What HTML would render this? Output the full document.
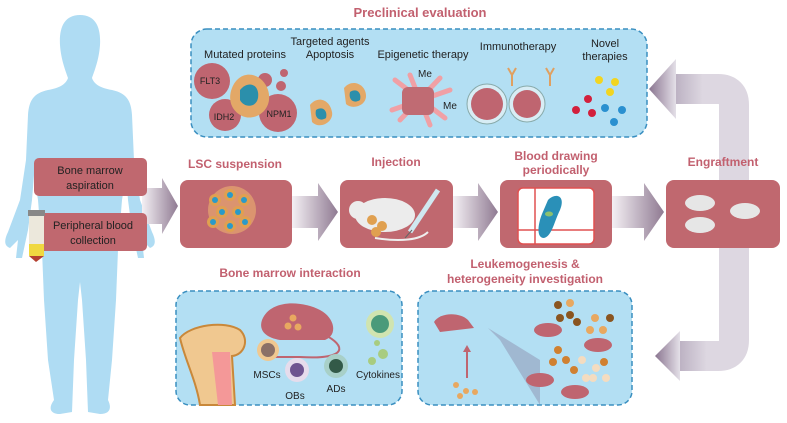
<!DOCTYPE html>
<html><head><meta charset="utf-8"><style>
body{margin:0;background:#fff}
svg{display:block}
text{font-family:"Liberation Sans",sans-serif}
</style></head><body>
<svg width="787" height="423" viewBox="0 0 787 423" xmlns="http://www.w3.org/2000/svg">
<defs>
<linearGradient id="ga" x1="0" x2="1"><stop offset="0" stop-color="#f4f0f4"/><stop offset="1" stop-color="#8f7a92"/></linearGradient>
<linearGradient id="gl" x1="1" x2="0"><stop offset="0" stop-color="#e4e0e8"/><stop offset="1" stop-color="#8a7590"/></linearGradient>
<linearGradient id="gh" x1="1" x2="0"><stop offset="0" stop-color="#dcd6e0"/><stop offset="1" stop-color="#b8adbf"/></linearGradient>
</defs>
<!-- human -->
<path fill="#afdcf3" d="M80 15 C96 15 101 28 100 45 C99 60 94 72 92 78 C94 84 100 88 112 90 C126 93 131 100 132 115 L134 160 L140 200 L152 232 C156 240 156 246 150 248 L142 240 L144 258 L138 258 L132 230 L128 200 L126 175 L122 200 L118 250 L116 300 L112 360 L108 400 C112 408 110 414 100 414 L88 412 L86 360 L82 300 L80 282 L78 300 L74 360 L72 412 L60 414 C50 414 48 408 54 400 L48 360 L44 300 L42 250 L38 200 L34 175 L32 200 L28 230 L22 258 L16 258 L18 240 L10 248 C4 246 4 240 8 232 L20 200 L26 160 L28 115 C29 100 34 93 48 90 C60 88 66 84 68 78 C66 72 61 60 60 45 C59 28 64 15 80 15Z"/>
<!-- right loop arrow -->
<path d="M672 89 L718 89 Q734 89 734 105 L734 340 Q734 356 718 356 L676 356" stroke="#ddd7e1" stroke-width="30" fill="none"/>
<rect x="672" y="74" width="30" height="30" fill="url(#gh)"/>
<polygon points="649,89 676,59 676,119" fill="url(#gl)"/>
<rect x="676" y="341" width="30" height="30" fill="url(#gh)"/>
<polygon points="655,356 680,331 680,381" fill="url(#gl)"/>
<!-- top box -->
<text x="420" y="17" text-anchor="middle" font-size="13" font-weight="bold" fill="#c2606f">Preclinical evaluation</text>
<rect x="191" y="29" width="456" height="108" rx="16" fill="#b3dff3" stroke="#3a8fc0" stroke-width="1.5" stroke-dasharray="5,3"/>
<g font-size="11" fill="#222" text-anchor="middle">
<text x="245" y="58">Mutated proteins</text>
<text x="330" y="45">Targeted agents</text>
<text x="330" y="58">Apoptosis</text>
<text x="423" y="58">Epigenetic therapy</text>
<text x="518" y="50">Immunotherapy</text>
<text x="605" y="47">Novel</text>
<text x="605" y="60">therapies</text>
</g>
<g fill="#bf6570"><circle cx="212" cy="81" r="18"/><circle cx="225" cy="115" r="16"/><circle cx="278" cy="113" r="19"/><circle cx="265" cy="80" r="7"/><circle cx="281" cy="86" r="5"/><circle cx="284" cy="73" r="4"/></g>
<path d="M232 88 C240 68 262 72 268 90 C274 110 255 122 242 116 C230 110 228 98 232 88Z" fill="#e3a867"/>
<path d="M240 90 C248 80 260 84 258 98 C256 108 244 108 240 100Z" fill="#2b8fab"/>
<g font-size="9" fill="#222" text-anchor="middle"><text x="210" y="84">FLT3</text><text x="224" y="120">IDH2</text><text x="279" y="117">NPM1</text></g>
<path d="M310 105 C318 95 330 100 332 112 C334 122 320 130 312 122Z" fill="#e3a867"/>
<path d="M316 110 C322 106 328 110 326 118 C320 122 314 118 316 110Z" fill="#2b8fab"/>
<path d="M344 88 C352 78 366 84 366 96 C366 106 352 110 346 104Z" fill="#e3a867"/>
<path d="M350 92 C356 88 362 92 360 100 C354 104 348 100 350 92Z" fill="#2b8fab"/>
<g stroke="#f0a0a5" stroke-width="5" stroke-linecap="round" fill="none"><path d="M395 80 L445 118"/><path d="M392 110 L450 90"/><path d="M400 120 L440 78"/><path d="M410 75 L430 125"/></g>
<rect x="402" y="87" width="32" height="28" rx="6" fill="#c06b73"/>
<g font-size="10" fill="#222"><text x="418" y="77">Me</text><text x="443" y="109">Me</text></g>
<circle cx="487" cy="104" r="20" fill="#d8edf5" stroke="#8aa" /><circle cx="487" cy="104" r="16" fill="#bf6570"/>
<circle cx="527" cy="104" r="18" fill="#d8edf5" stroke="#8aa"/><circle cx="527" cy="104" r="14" fill="#bf6570"/>
<g stroke="#e0a060" stroke-width="2" fill="none"><path d="M512 86 L512 75 M508 68 L512 75 L516 68"/><path d="M550 86 L550 75 M546 68 L550 75 L554 68"/></g>
<g><circle cx="599" cy="80" r="4" fill="#f2d520"/><circle cx="615" cy="82" r="4" fill="#f2d520"/><circle cx="610" cy="92" r="4" fill="#f2d520"/><circle cx="588" cy="99" r="4" fill="#d2203c"/><circle cx="576" cy="110" r="4" fill="#d2203c"/><circle cx="592" cy="113" r="4" fill="#d2203c"/><circle cx="605" cy="108" r="4" fill="#2a90d0"/><circle cx="622" cy="110" r="4" fill="#2a90d0"/><circle cx="614" cy="122" r="4" fill="#2a90d0"/></g>
<!-- left labels -->
<polygon points="142,188 162,188 162,178 178,206 162,234 162,224 142,224" fill="url(#ga)"/>
<rect x="34" y="158" width="113" height="38" rx="5" fill="#c0686f"/>
<text x="90" y="174" font-size="11" text-anchor="middle" fill="#222">Bone marrow</text>
<text x="90" y="189" font-size="11" text-anchor="middle" fill="#222">aspiration</text>
<rect x="34" y="213" width="113" height="38" rx="5" fill="#c0686f"/>
<text x="93" y="229" font-size="11" text-anchor="middle" fill="#222">Peripheral blood</text>
<text x="93" y="244" font-size="11" text-anchor="middle" fill="#222">collection</text>
<rect x="28" y="210" width="17" height="6" fill="#888"/>
<rect x="29" y="216" width="15" height="28" fill="#ece8dc"/>
<rect x="29" y="244" width="15" height="12" fill="#f0d840"/>
<polygon points="29,256 44,256 36,262" fill="#b44030"/>
<!-- flow arrows -->
<polygon points="292,196 318,196 318,183 338,212 318,241 318,228 292,228" fill="url(#ga)"/>
<polygon points="453,196 478,196 478,183 498,212 478,241 478,228 453,228" fill="url(#ga)"/>
<polygon points="612,196 644,196 644,183 664,212 644,241 644,228 612,228" fill="url(#ga)"/>
<!-- boxes -->
<g font-size="12" font-weight="bold" fill="#c2606f" text-anchor="middle">
<text x="235" y="168">LSC suspension</text><text x="396" y="166">Injection</text>
<text x="556" y="160">Blood drawing</text><text x="556" y="174">periodically</text>
<text x="723" y="166">Engraftment</text>
<text x="290" y="277">Bone marrow interaction</text>
<text x="525" y="268">Leukemogenesis &amp;</text><text x="525" y="283">heterogeneity investigation</text>
</g>
<rect x="180" y="180" width="112" height="68" rx="8" fill="#c0686f"/>
<circle cx="232" cy="210" r="24" fill="#f5c070" opacity=".5"/>
<g fill="#e0a050"><circle cx="215" cy="200" r="6"/><circle cx="230" cy="195" r="6"/><circle cx="244" cy="200" r="6"/><circle cx="222" cy="212" r="6"/><circle cx="238" cy="212" r="6"/><circle cx="213" cy="222" r="6"/><circle cx="230" cy="226" r="6"/><circle cx="245" cy="222" r="6"/></g>
<g fill="#2a9ac8"><circle cx="215" cy="200" r="3"/><circle cx="230" cy="195" r="3"/><circle cx="244" cy="200" r="3"/><circle cx="222" cy="212" r="3"/><circle cx="238" cy="212" r="3"/><circle cx="213" cy="222" r="3"/><circle cx="230" cy="226" r="3"/><circle cx="245" cy="222" r="3"/></g>
<rect x="340" y="180" width="113" height="68" rx="8" fill="#c0686f"/>
<ellipse cx="385" cy="215" rx="30" ry="17" fill="#ececec"/><circle cx="358" cy="210" r="9" fill="#ececec"/>
<path d="M375 238 C400 242 420 240 428 232" stroke="#eee" stroke-width="2" fill="none"/>
<g fill="#e0a050"><circle cx="372" cy="220" r="5"/><circle cx="382" cy="226" r="5"/><circle cx="376" cy="232" r="5"/></g>
<line x1="410" y1="232" x2="438" y2="190" stroke="#d0e8f0" stroke-width="5"/><line x1="405" y1="238" x2="412" y2="230" stroke="#666" stroke-width="1"/>
<rect x="500" y="180" width="112" height="68" rx="8" fill="#c0686f"/>
<rect x="518" y="188" width="76" height="56" rx="5" fill="#fff" stroke="#e05050" stroke-width="1.5"/>
<line x1="535" y1="188" x2="535" y2="244" stroke="#e05050" stroke-width="1.5"/><line x1="518" y1="230" x2="594" y2="230" stroke="#e05050" stroke-width="1.5"/>
<path d="M548 200 C556 192 566 196 560 210 C554 222 552 236 544 238 C536 238 538 224 542 214Z" fill="#2a90b8"/>
<ellipse cx="549" cy="214" rx="4" ry="2.5" fill="#8cc070"/>
<rect x="666" y="180" width="114" height="68" rx="8" fill="#c0686f"/>
<g fill="#e6e6e6"><ellipse cx="700" cy="203" rx="15" ry="8"/><ellipse cx="745" cy="211" rx="15" ry="8"/><ellipse cx="700" cy="225" rx="15" ry="8"/></g>
<!-- bottom boxes -->
<rect x="176" y="291" width="226" height="114" rx="14" fill="#b3dff3" stroke="#3a8fc0" stroke-width="1.5" stroke-dasharray="5,3"/>
<path d="M180 338 C190 325 225 320 240 330 C250 340 244 355 232 356 L235 405 L200 405 C196 380 185 360 180 338Z" fill="#f0c890" stroke="#c9883a" stroke-width="2"/>
<path d="M212 352 L230 352 L232 405 L218 405Z" fill="#f49898"/>
<path d="M262 320 C270 300 300 300 320 310 C335 318 338 335 325 340 L280 340 C268 338 258 332 262 320Z" fill="#bf6570"/>
<path d="M325 335 C345 345 350 360 300 357 L270 357" stroke="#bf6570" stroke-width="2" fill="none"/>
<g fill="#e8a860"><circle cx="293" cy="318" r="3.5"/><circle cx="288" cy="326" r="3.5"/><circle cx="298" cy="327" r="3.5"/></g>
<circle cx="268" cy="350" r="11" fill="#f0c890"/><circle cx="268" cy="350" r="7" fill="#8b7066"/>
<circle cx="297" cy="370" r="12" fill="#e6dcec"/><circle cx="297" cy="370" r="7" fill="#6e5490"/>
<circle cx="336" cy="366" r="12" fill="#a8d0c8"/><circle cx="336" cy="366" r="7" fill="#335a48"/>
<circle cx="380" cy="324" r="14" fill="#d0e4b0"/><circle cx="380" cy="324" r="9" fill="#4a9a7a"/>
<g fill="#a8cc80"><circle cx="377" cy="343" r="3"/><circle cx="383" cy="354" r="5"/><circle cx="372" cy="361" r="4"/></g>
<g font-size="10" fill="#222" text-anchor="middle"><text x="267" y="378">MSCs</text><text x="295" y="399">OBs</text><text x="336" y="392">ADs</text><text x="378" y="378">Cytokines</text></g>
<rect x="418" y="291" width="214" height="114" rx="14" fill="#b3dff3" stroke="#3a8fc0" stroke-width="1.5" stroke-dasharray="5,3"/>
<polygon points="488,328 540,360 540,405 500,340" fill="#8a8aa8" opacity=".45"/>
<path d="M434 322 C440 312 460 312 468 320 L474 328 L440 332Z" fill="#bf6570"/>
<line x1="467" y1="378" x2="467" y2="350" stroke="#bf6570" stroke-width="2"/><polygon points="467,345 463,352 471,352" fill="#bf6570"/>
<g fill="#e8a860"><circle cx="456" cy="385" r="3"/><circle cx="466" cy="391" r="3"/><circle cx="460" cy="396" r="3"/><circle cx="475" cy="392" r="3"/></g>
<g fill="#bf6570"><ellipse cx="548" cy="330" rx="14" ry="7"/><ellipse cx="598" cy="345" rx="14" ry="7"/><ellipse cx="540" cy="380" rx="14" ry="7"/><ellipse cx="575" cy="392" rx="14" ry="7"/></g>
<g fill="#8a5520"><circle cx="558" cy="305" r="4"/><circle cx="570" cy="315" r="4"/><circle cx="560" cy="318" r="4"/><circle cx="577" cy="322" r="4"/><circle cx="610" cy="318" r="4"/></g>
<g fill="#e8a860"><circle cx="570" cy="303" r="4"/><circle cx="595" cy="318" r="4"/><circle cx="603" cy="330" r="4"/><circle cx="590" cy="330" r="4"/></g>
<g fill="#d08030"><circle cx="558" cy="350" r="4"/><circle cx="553" cy="362" r="4"/><circle cx="566" cy="360" r="4"/><circle cx="574" cy="370" r="4"/><circle cx="604" cy="362" r="4"/></g>
<g fill="#f4dcc0"><circle cx="582" cy="360" r="4"/><circle cx="596" cy="368" r="4"/><circle cx="593" cy="378" r="4"/><circle cx="606" cy="378" r="4"/><circle cx="586" cy="378" r="4"/></g>
</svg>
</body></html>
